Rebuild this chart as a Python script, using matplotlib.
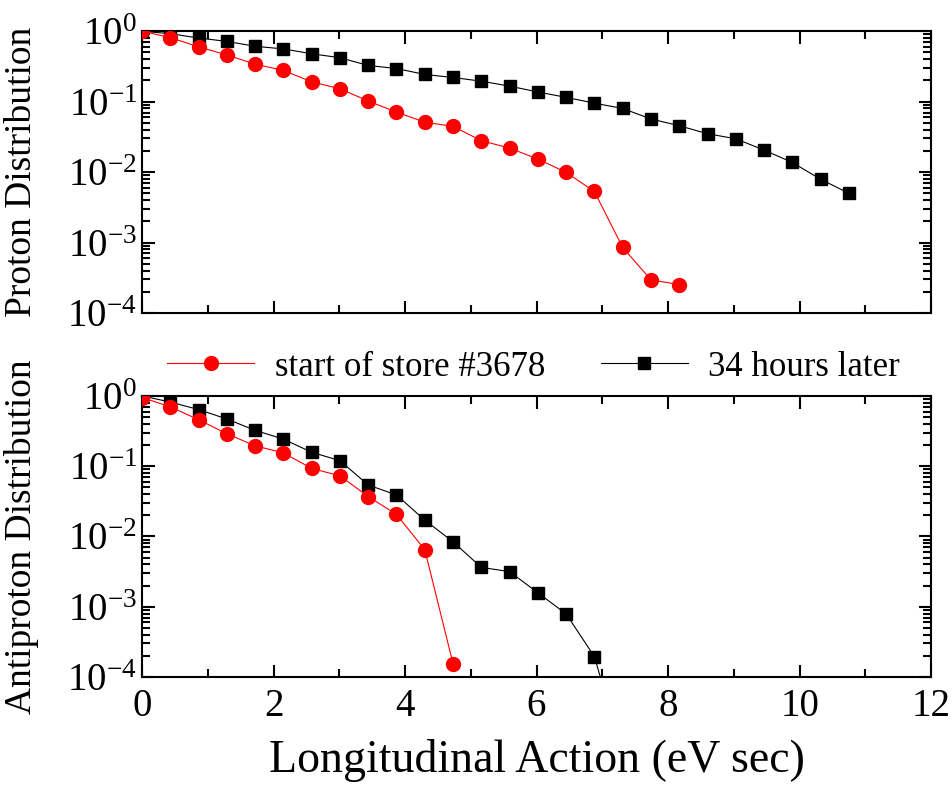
import numpy as np
import matplotlib
matplotlib.use("Agg")
import matplotlib.pyplot as plt
from matplotlib.ticker import MultipleLocator, LogLocator, LogFormatterMathtext, NullFormatter

plt.rcParams['font.family'] = ['Liberation Serif', 'DejaVu Serif']
plt.rcParams['mathtext.fontset'] = 'stix'

# bin width in longitudinal action (eV sec)
step = 0.43

# proton distribution (top panel)
p_start = [1.0, 0.81, 0.60, 0.46, 0.34, 0.277, 0.191, 0.152, 0.102, 0.071,
           0.051, 0.0446, 0.0279, 0.0219, 0.0153, 0.0099, 0.0053, 0.00085,
           0.000295, 0.000253]
p_later = [1.0, 0.92, 0.80, 0.716, 0.61, 0.56, 0.478, 0.42, 0.326, 0.295,
           0.243, 0.22, 0.195, 0.166, 0.137, 0.115, 0.095, 0.080, 0.0567,
           0.0455, 0.035, 0.0297, 0.0205, 0.0137, 0.0079, 0.0050]

# antiproton distribution (bottom panel)
a_start = [0.95, 0.70, 0.46, 0.29, 0.195, 0.155, 0.093, 0.073, 0.037, 0.0206,
           0.0065, 0.000155]
a_later = [1.0, 0.82, 0.64, 0.47, 0.324, 0.243, 0.158, 0.12, 0.054, 0.039,
           0.0171, 0.0084, 0.00363, 0.00316, 0.00158, 0.00079, 0.000195, 8e-6]

labels = ['start of store #3678', '34 hours later']

fig = plt.figure(figsize=(9.53, 7.85), dpi=100)
ax1 = fig.add_axes([0.149, 0.6013, 0.828, 0.359])
ax2 = fig.add_axes([0.149, 0.1376, 0.828, 0.358])


def draw(ax, start, later):
    x1 = np.arange(len(start)) * step
    x2 = np.arange(len(later)) * step
    l2, = ax.plot(x2, later, color='black', lw=0.8, marker='s', ms=8,
                  mec='black', mfc='black', label=labels[1], zorder=2)
    l1, = ax.plot(x1, start, color='red', lw=0.8, marker='o', ms=10,
                  mec='red', mfc='red', label=labels[0], zorder=3)
    ax.set_yscale('log')
    ax.set_ylim(1e-4, 1)
    ax.set_xlim(0, 12)
    ax.xaxis.set_major_locator(MultipleLocator(2))
    ax.xaxis.set_minor_locator(MultipleLocator(1))
    ax.yaxis.set_major_locator(LogLocator(base=10, numticks=10))
    ax.yaxis.set_minor_locator(LogLocator(base=10, subs=np.arange(2, 10), numticks=10))
    ax.yaxis.set_major_formatter(LogFormatterMathtext())
    ax.yaxis.set_minor_formatter(NullFormatter())
    ax.tick_params(which='both', direction='in', top=True, right=True, width=1.5)
    ax.tick_params(which='major', length=9, labelsize=28)
    ax.tick_params(which='minor', length=6)
    for s in ax.spines.values():
        s.set_linewidth(1.5)
    return l1, l2


draw(ax1, p_start, p_later)
h1, h2 = draw(ax2, a_start, a_later)
ax1.tick_params(axis='x', labelbottom=False)
ax2.tick_params(axis='x', pad=8)

ax1.set_ylabel('Proton Distribution', fontsize=27)
ax2.set_ylabel('Antiproton Distribution', fontsize=27)
ax2.set_xlabel('Longitudinal Action (eV sec)', fontsize=33, labelpad=10)
ax1.yaxis.set_label_coords(-0.13, 0.5)
ax2.yaxis.set_label_coords(-0.13, 0.5)

fig.legend([h1, h2], labels, loc='center', bbox_to_anchor=(0.56, 1 - 367 / 785),
           ncol=2, frameon=False, fontsize=25, handlelength=2.5,
           columnspacing=1.6, handletextpad=0.6, borderaxespad=0)

fig.savefig('out.png', dpi=100)
